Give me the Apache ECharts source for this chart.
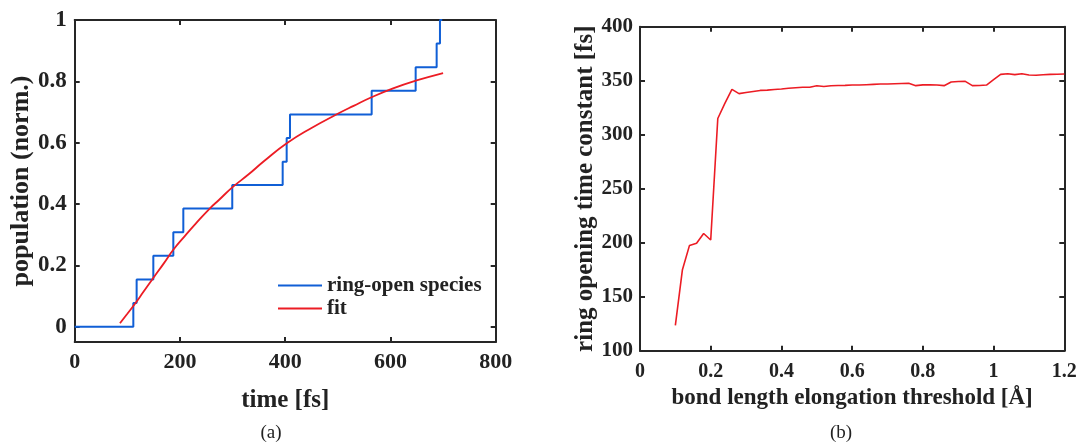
<!DOCTYPE html>
<html>
<head>
<meta charset="utf-8">
<script src="https://cdn.jsdelivr.net/npm/echarts@6/dist/echarts.min.js"></script>
<style>
html,body{margin:0;padding:0;background:#fff;}
#chart{width:1080px;height:445px;}
</style>
</head>
<body>
<div id="chart"></div>
<script>
// ---- Panel (a): population vs time ----
const stepTimes  = [0, 111.4, 117.7, 149.4, 187.4, 206.4, 299.4, 395.2, 402.8, 409.1, 564.3, 647.9, 687.8, 694.1, 698.4];
const stepLevels = [0, 0.077, 0.154, 0.231, 0.308, 0.385, 0.462, 0.538, 0.615, 0.692, 0.769, 0.846, 0.923, 1.0, 1.0];
const fitTimes  = [86, 100, 116, 130, 149, 170, 187, 210, 230, 257, 274, 300, 330, 360, 403, 450, 498, 530, 564, 605, 648, 700];
const fitValues = [0.011, 0.042, 0.078, 0.112, 0.158, 0.208, 0.250, 0.297, 0.336, 0.386, 0.413, 0.455, 0.496, 0.540, 0.598, 0.648, 0.6925, 0.720, 0.748, 0.777, 0.802, 0.827];
const aXTicks = [0, 200, 400, 600, 800];
const aYTicks = [0, 0.2, 0.4, 0.6, 0.8, 1];

// ---- Panel (b): time constant vs threshold ----
const thresholds = [0.10,0.12,0.14,0.16,0.18,0.20,0.22,0.24,0.26,0.28,0.30,0.32,0.34,0.36,0.38,0.40,0.42,0.44,0.46,0.48,0.50,0.52,0.54,0.56,0.58,0.60,0.62,0.64,0.66,0.68,0.70,0.72,0.74,0.76,0.78,0.80,0.82,0.84,0.86,0.88,0.90,0.92,0.94,0.96,0.98,1.00,1.02,1.04,1.06,1.08,1.10,1.12,1.14,1.16,1.18,1.20];
const timeConstants = [123.5,175,197.5,199.5,208.5,202.5,315,329,342,338,339,340,341,341.3,341.8,342.3,343,343.5,344,344,345.3,344.6,345.3,345.5,345.7,346,346,346.3,346.6,346.9,347,347.2,347.4,347.6,345.4,346.1,346.3,346,345.4,348.8,349.3,349.4,345.4,345.5,346,351,355.9,356.4,355.6,356.5,355.3,355,355.5,355.9,356,356.2];
const bXTicks = [0, 0.2, 0.4, 0.6, 0.8, 1, 1.2];
const bYTicks = [100, 150, 200, 250, 300, 350, 400];

const FONT = '"Liberation Serif","Times New Roman",serif';
const AX = '#262626';
const TXT = '#222';

const stepData = stepTimes.map((t, i) => [t, stepLevels[i]]);
const fitData = fitTimes.map((t, i) => [t, fitValues[i]]);
const bData = thresholds.map((x, i) => [x, timeConstants[i]]);

function ax(grid, pos, min, max, ticks, showLabel, fs, labelMargin) {
  return {
    type: 'value', gridIndex: grid, position: pos, min: min, max: max,
    axisLine: {show: true, onZero: false, lineStyle: {color: AX, width: 2}},
    axisTick: {show: true, inside: true, length: 5, customValues: ticks, lineStyle: {color: AX, width: 2}},
    axisLabel: {show: showLabel, customValues: ticks, margin: labelMargin, color: TXT,
      fontFamily: FONT, fontWeight: 'bold', fontSize: fs},
    splitLine: {show: false}
  };
}
function nameStyle(fs) {
  return {fontFamily: FONT, fontWeight: 'bold', fontSize: fs, color: TXT};
}

const xa0 = ax(0, 'bottom', 0, 800, aXTicks, true, 22, 9);
Object.assign(xa0, {name: 'time [fs]', nameLocation: 'middle', nameGap: 46, nameTextStyle: nameStyle(25)});
const ya0 = ax(0, 'left', -0.05, 1, aYTicks, true, 23, 8);
Object.assign(ya0, {name: 'population (norm.)', nameLocation: 'middle', nameGap: 37, nameTextStyle: nameStyle(26)});

const xa2 = ax(1, 'bottom', 0, 1.2, bXTicks, true, 20, 11);
Object.assign(xa2, {name: 'bond length elongation threshold [Å]', nameLocation: 'middle', nameGap: 35, nameTextStyle: nameStyle(23)});
const ya2 = ax(1, 'left', 100, 400, bYTicks, true, 21, 7);
Object.assign(ya2, {name: 'ring opening time constant [fs]', nameLocation: 'middle', nameGap: 38, nameTextStyle: nameStyle(25)});

const option = {
  animation: false,
  backgroundColor: '#fff',
  grid: [
    {left: 74.7, right: 584.3, top: 20, bottom: 103},
    {left: 640, right: 15.7, top: 26.7, bottom: 94.3}
  ],
  xAxis: [xa0, ax(0, 'top', 0, 800, aXTicks, false, 22, 8), xa2, ax(1, 'top', 0, 1.2, bXTicks, false, 20, 8)],
  yAxis: [ya0, ax(0, 'right', -0.05, 1, aYTicks, false, 23, 8), ya2, ax(1, 'right', 100, 400, bYTicks, false, 21, 8)],
  legend: {
    left: 278, top: 275, padding: 0, orient: 'vertical', icon: 'rect', itemWidth: 44, itemHeight: 2.2, itemGap: 2,
    textStyle: {fontFamily: FONT, fontWeight: 'bold', fontSize: 21, color: TXT},
    data: ['ring-open species', 'fit']
  },
  graphic: [
    {type: 'text', x: 271, y: 433, style: {text: '(a)', font: '19px ' + FONT, fill: TXT, align: 'center', verticalAlign: 'middle'}},
    {type: 'text', x: 841, y: 433, style: {text: '(b)', font: '19px ' + FONT, fill: TXT, align: 'center', verticalAlign: 'middle'}}
  ],
  series: [
    {name: 'ring-open species', type: 'line', xAxisIndex: 0, yAxisIndex: 0, step: 'end', data: stepData,
      symbol: 'none', lineStyle: {color: '#105fd6', width: 2}, itemStyle: {color: '#105fd6'}, z: 2},
    {name: 'fit', type: 'line', xAxisIndex: 0, yAxisIndex: 0, smooth: true, data: fitData,
      symbol: 'none', lineStyle: {color: '#ec1c24', width: 1.8}, itemStyle: {color: '#ec1c24'}, z: 3},
    {name: 'tau', type: 'line', xAxisIndex: 2, yAxisIndex: 2, data: bData,
      symbol: 'none', lineStyle: {color: '#ec1c24', width: 1.6}, itemStyle: {color: '#ec1c24'}}
  ]
};
const chart = echarts.init(document.getElementById('chart'), null, {renderer: 'canvas'});
chart.setOption(option);
</script>
</body>
</html>
